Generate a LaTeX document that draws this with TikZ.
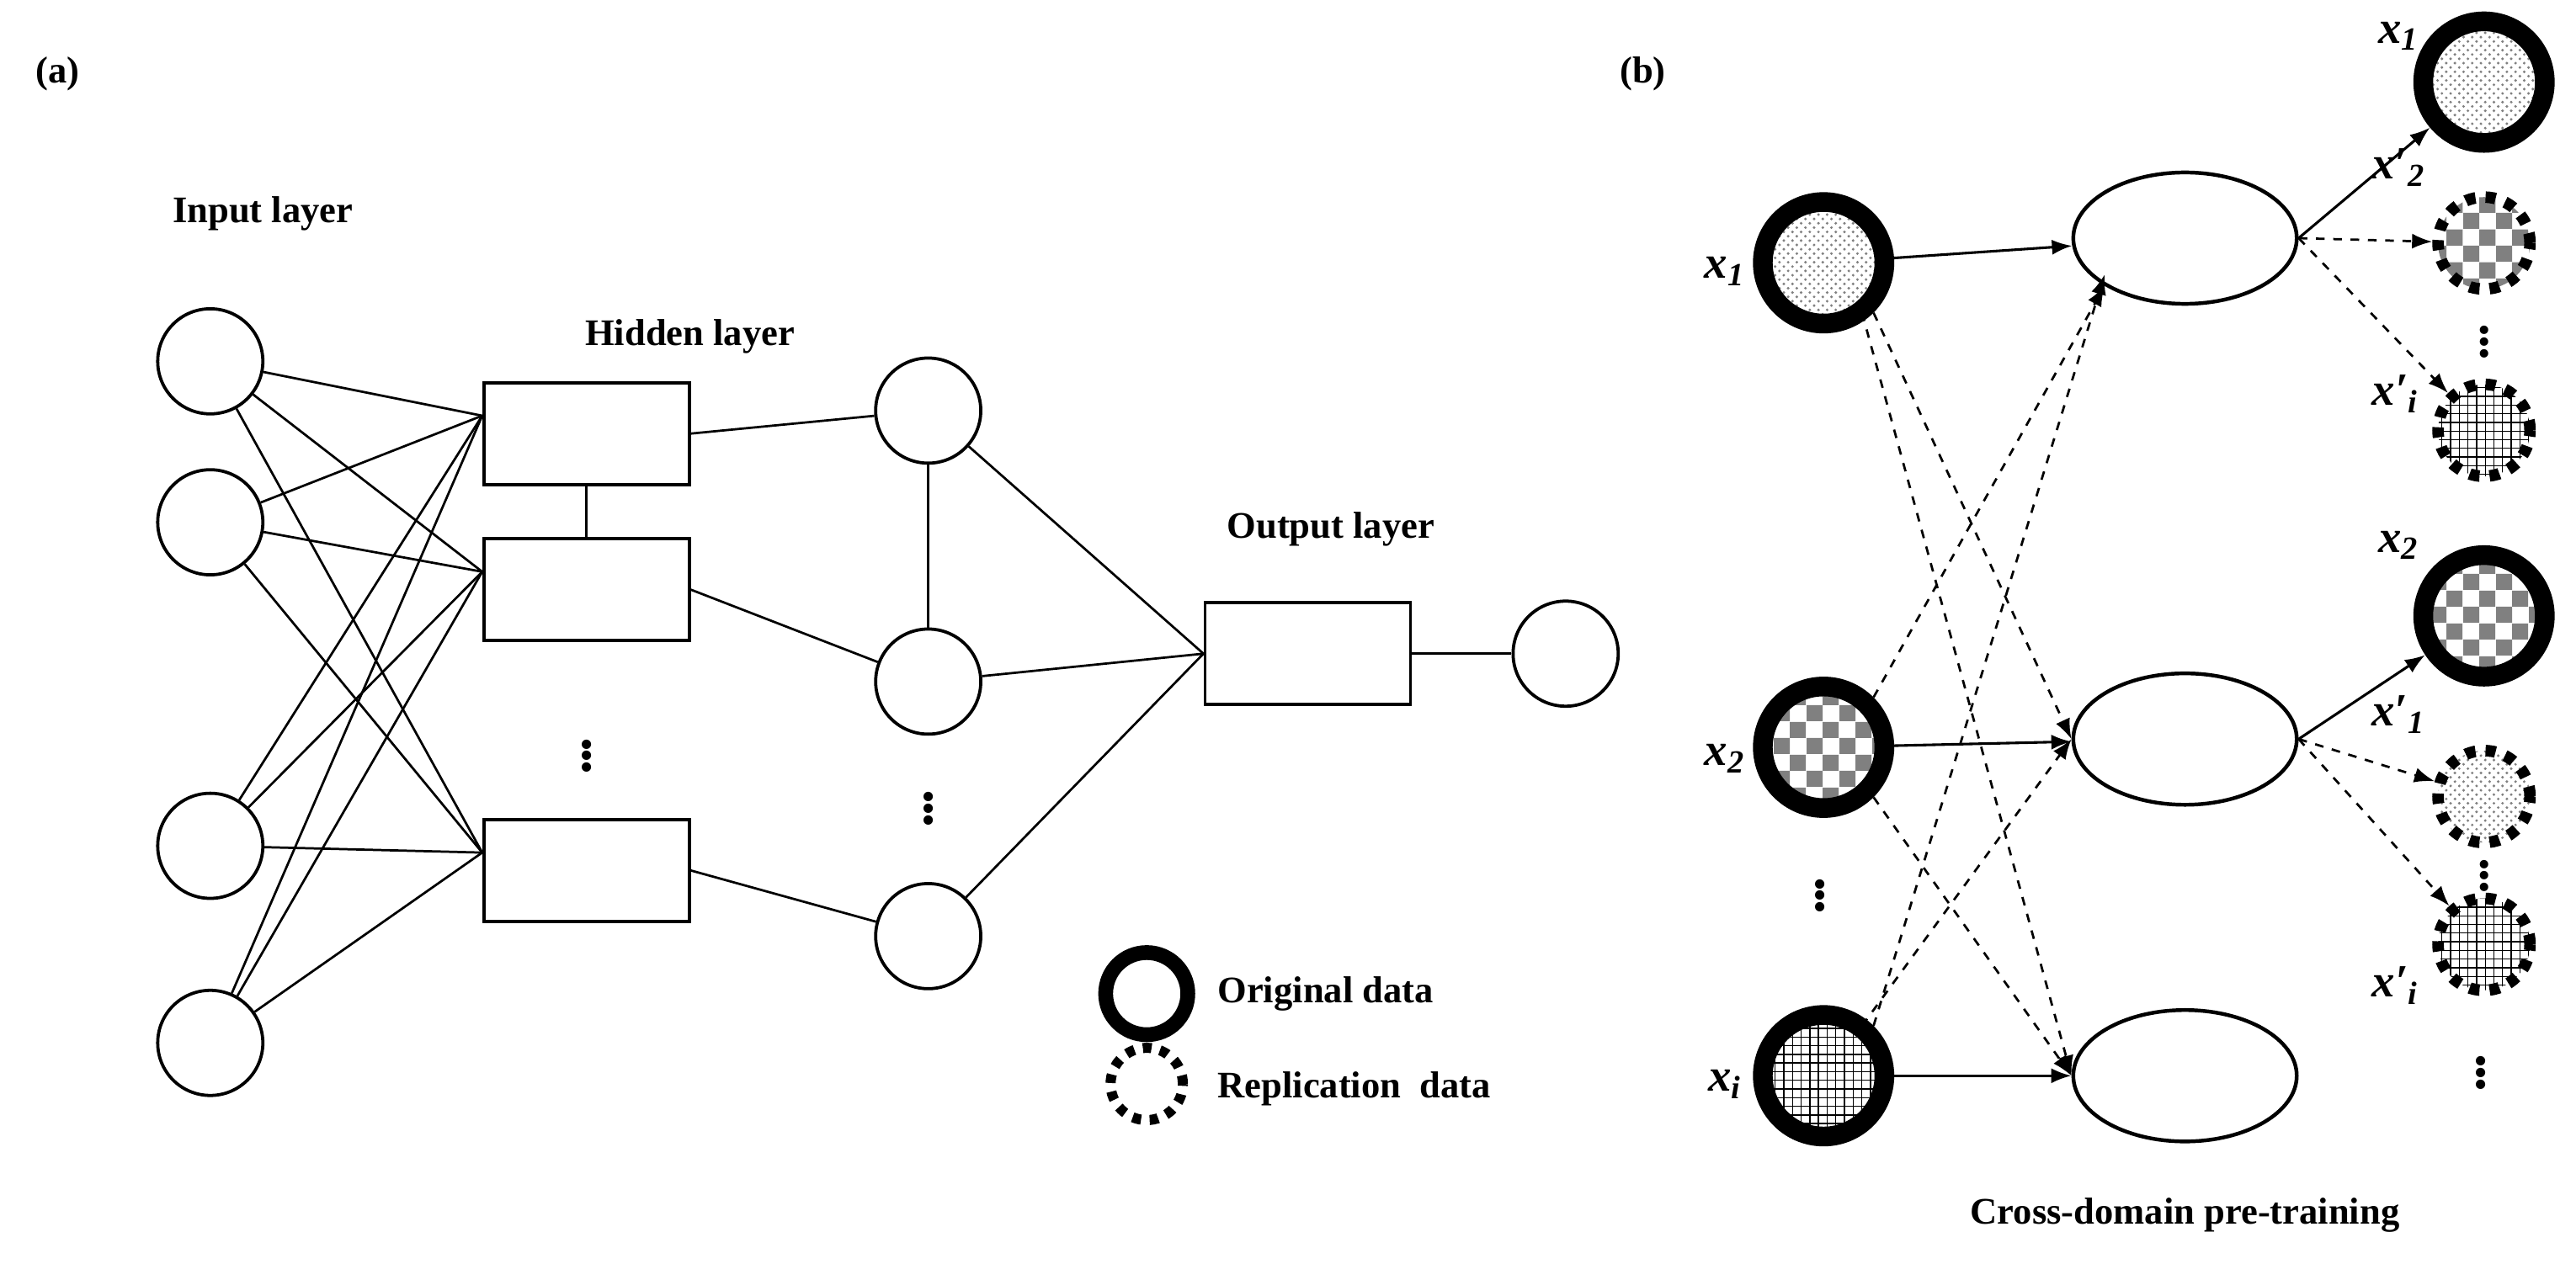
\documentclass[tikz,border=0pt]{standalone}
\usepackage{fontspec}
\setmainfont{Liberation Serif}
\usetikzlibrary{patterns,arrows.meta,shapes.geometric}
\begin{document}
\begin{tikzpicture}[x=0.02cm,y=-0.02cm,
  lbl/.style={font=\fontsize{13}{15}\selectfont\bfseries},
  var/.style={font=\fontsize{16}{18}\selectfont\bfseries\itshape},
  neu/.style={circle,draw,line width=1.1pt,minimum size=64*0.02cm,inner sep=0},
  box/.style={rectangle,draw,line width=1.1pt,minimum width=125*0.02cm,minimum height=62*0.02cm},
  ell/.style={ellipse,draw,line width=1.3pt,minimum width=136*0.02cm,minimum height=80*0.02cm},
  orig/.style={circle,draw=black,line width=12*0.02cm,minimum size=74*0.02cm,inner sep=0},
  repl/.style={circle,draw=black,line width=4pt,dash pattern=on 3.5pt off 3.5pt,minimum size=56*0.02cm,inner sep=0},
  con/.style={line width=0.8pt},
  sarr/.style={line width=0.9pt,-{Latex[length=7pt]}},
  darr/.style={line width=0.8pt,dashed,-{Latex[length=7pt]}},
  vdots/.style={font=\fontsize{20}{20}\selectfont\bfseries},
  sdots/.style={font=\fontsize{18}{18}\selectfont\bfseries}]
\useasboundingbox (0,0) rectangle (1568,779);
% panel a
\node[lbl] (la) at (35,45) {(a)};
\node[lbl] (tin) at (160,130) {Input layer};
\node[lbl] (thid) at (420,205) {Hidden layer};
\node[lbl] (tout) at (810,322) {Output layer};
\foreach \n/\y in {1/220,2/318,3/515,4/635} \node[neu] (i\n) at (128,\y) {};
\node[box] (r1) at (357,264) {};
\node[box] (r2) at (357,359) {};
\node[box] (r3) at (357,530) {};
\node[vdots] (d1) at (357,455) {$\vdots$};
\foreach \n/\y in {1/250,2/415,3/570} \node[neu] (h\n) at (565,\y) {};
\node[vdots] (d2) at (565,487) {$\vdots$};
\node[box] (ro) at (796,398) {};
\node[neu] (o) at (953,398) {};
\foreach \i in {1,2,3,4} \foreach \r in {1,2,3} \draw[con] (i\i) -- ([yshift=-12]r\r.north west);
\draw[con] (r1) -- (r2);
\draw[con] (h1) -- (h2);
\foreach \n in {1,2,3} {\draw[con] (r\n.east) -- (h\n); \draw[con] (h\n) -- (ro.west);}
\draw[con] (ro) -- (o);
\node[circle,draw,line width=9*0.02cm,minimum size=50*0.02cm,inner sep=0] (lg1) at (698,605) {};
\node[lbl,anchor=west] (lt1) at (735,605) {Original data};
\node[circle,draw,line width=3.5pt,dash pattern=on 3pt off 3pt,minimum size=44*0.02cm,inner sep=0] (lg2) at (698,660) {};
\node[lbl,anchor=west] (lt2) at (735,663) {Replication\ \ data};
% panel b
\node[lbl] (lb) at (1000,45) {(b)};
\node[orig,pattern=crosshatch dots,pattern color=gray] (a1) at (1110,160) {};
\node[orig,pattern=checkerboard,pattern color=gray] (a2) at (1110,455) {};
\node[orig,pattern=grid] (a3) at (1110,655) {};
\node[var] (ta1) at (1050,165) {x\textsubscript{1}};
\node[var] (ta2) at (1050,462) {x\textsubscript{2}};
\node[var] (ta3) at (1050,660) {x\textsubscript{i}};
\node[vdots] (d3) at (1108,540) {$\vdots$};
\node[ell] (e1) at (1330,145) {};
\node[ell] (e2) at (1330,450) {};
\node[ell] (e3) at (1330,655) {};
\foreach \n in {1,2,3} \draw[sarr] (a\n) -- (e\n);
\draw[darr] (a1.south east) -- (e2.west);
\draw[darr] ([xshift=-4]a1.south east) -- (e3.west);
\draw[darr] (a2.north east) -- (e1.south west);
\draw[darr] (a2.south east) -- (e3.west);
\draw[darr] (a3.north east) -- ([yshift=4]e1.south west);
\draw[darr] ([xshift=-4]a3.north east) -- (e2.west);
% outputs group 1
\node[orig,pattern=crosshatch dots,pattern color=gray] (b1) at (1512,50) {};
\node[repl,pattern=checkerboard,pattern color=gray] (b2) at (1512,148) {};
\node[repl,pattern=grid] (b3) at (1512,262) {};
\node[sdots] (d4) at (1512,203) {$\vdots$};
\node[var] (tb1) at (1460,22) {x\textsubscript{1}};
\node[var] (tb2) at (1460,102) {x′\textsubscript{2}};
\node[var] (tb3) at (1458,240) {x′\textsubscript{i}};
\draw[sarr] (e1.east) -- (b1);
\draw[darr] (e1.east) -- (b2);
\draw[darr] (e1.east) -- (b3);
% outputs group 2
\node[orig,pattern=checkerboard,pattern color=gray] (c1) at (1512,375) {};
\node[repl,pattern=crosshatch dots,pattern color=gray] (c2) at (1512,485) {};
\node[repl,pattern=grid] (c3) at (1512,575) {};
\node[var] (tc1) at (1460,332) {x\textsubscript{2}};
\node[var] (tc2) at (1460,435) {x′\textsubscript{1}};
\node[var] (tc3) at (1458,600) {x′\textsubscript{i}};
\node[sdots] (d5) at (1512,528) {$\vdots$};
\node[vdots] (d6) at (1510,648) {$\vdots$};
\draw[sarr] (e2.east) -- (c1);
\draw[darr] (e2.east) -- (c2);
\draw[darr] (e2.east) -- (c3);
\node[lbl] (cap) at (1330,740) {Cross-domain pre-training};
\end{tikzpicture}
\end{document}
